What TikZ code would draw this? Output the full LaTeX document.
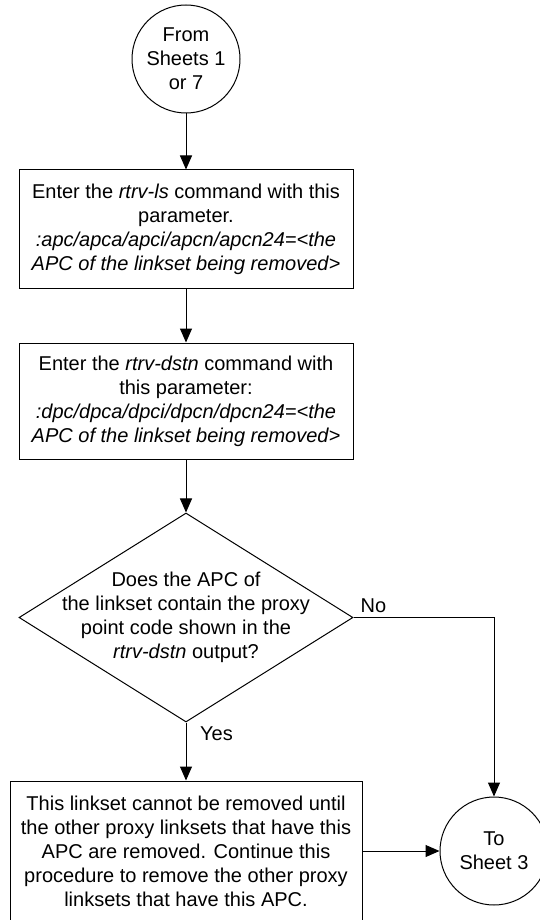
\documentclass[tikz,border=0pt]{standalone}
\usepackage{fontspec}
\setmainfont{Liberation Sans}
\usetikzlibrary{
    arrows.meta,
    positioning,
    shapes.geometric
}
\newcommand{\chartfont}{\fontsize{20}{24}\selectfont}
\tikzset{
  block/.style   = {draw, line width=1pt, minimum width=334pt,
                    minimum height=118pt, inner sep=0pt, align=center,
                    font=\chartfont},
  conn/.style    = {draw, circle, line width=1pt, minimum size=108pt,
                    inner sep=0pt, align=center, font=\chartfont},
  decision/.style= {draw, diamond, line width=1pt, minimum width=334pt,
                    minimum height=209pt, inner sep=0pt},
  lbl/.style     = {inner sep=0pt, font=\chartfont},
  arr/.style     = {-{Triangle[length=14pt, width=12pt]}, line width=1pt}
}

\begin{document}
\begin{tikzpicture}[x=1pt, y=1pt]
    \useasboundingbox (0,0) rectangle (540,-920);

    \node[conn] (from) at (186,-59) {From\\Sheets 1\\or 7};
    \node[block, below=56pt of from] (ls)
      {Enter the \textit{rtrv-ls} command with this\\
       parameter.\\
       \textit{:apc/apca/apci/apcn/apcn24=<the}\\
       \textit{APC of the linkset being removed>}};
    \node[block, below=54pt of ls, minimum height=116pt] (dstn)
      {Enter the \textit{rtrv-dstn} command with\\
       this parameter:\\
       \textit{:dpc/dpca/dpci/dpcn/dpcn24=<the}\\
       \textit{APC of the linkset being removed>}};
    \node[decision, below=53pt of dstn] (dec) {};
    \node[lbl, align=center] (dectxt) at (dec.center)
      {Does the APC of\\
       the linkset contain the proxy\\
       point code shown in the\\
       \textit{rtrv-dstn} output?};
    \node[block, below=58pt of dec, minimum width=352pt,
          minimum height=140pt] (msg)
      {This linkset cannot be removed until\\
       the other proxy linksets that have this\\
       APC are removed. Continue this\\
       procedure to remove the other proxy\\
       linksets that have this APC.};
    \node[conn, right=77pt of msg] (to) {To\\Sheet 3};

    \node[lbl, above right=5pt and 7pt of dec.east] (no) {No};
    \node[lbl, below right=4pt and 14pt of dec.south] (yes) {Yes};

    \draw[arr] (from) -- (ls);
    \draw[arr] (ls) -- (dstn);
    \draw[arr] (dstn) -- (dec);
    \draw[arr] (dec.south) -- (msg.north);
    \draw[arr] (dec.east) -| (to.north);
    \draw[arr] (msg) -- (to);
\end{tikzpicture}
\end{document}
